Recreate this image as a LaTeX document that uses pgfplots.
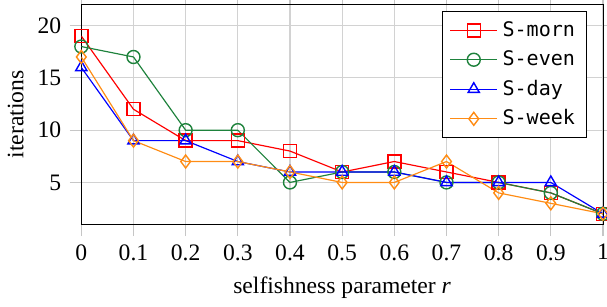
\documentclass[border=0pt]{standalone}
\usepackage{pgfplots}
\pgfplotsset{compat=1.18}
\usepackage{fontspec}
\setmainfont{Liberation Serif}
\setmonofont{DejaVu Sans Mono}
\definecolor{cgreen}{RGB}{30,130,60}
\definecolor{corange}{RGB}{255,140,20}
\begin{document}
\begin{tikzpicture}
\begin{axis}[
  width=221pt, height=93pt, scale only axis,
  xmin=0, xmax=1, ymin=1, ymax=22,
  xtick={0,0.1,...,1.01},
  xticklabels={0,0.1,0.2,0.3,0.4,0.5,0.6,0.7,0.8,0.9,1},
  ytick={5,10,15,20},
  grid=major,
  grid style={gray!35, line width=0.5pt},
  tick align=outside,
  major tick style={gray!45, line width=0.5pt},
  major tick length=5pt,
  /pgf/number format/assume math mode=true,
  xlabel={selfishness parameter \textit{r}},
  ylabel={iterations},
  xlabel style={yshift=0pt},
  ylabel style={yshift=-1pt},
  legend pos=north east,
  legend style={font=\ttfamily\fontsize{8.5}{9}\selectfont, row sep=0.6pt, legend cell align=left},
  legend image code/.code={\draw[mark repeat=2,mark phase=2] plot coordinates {(0cm,0cm)(0.35cm,0cm)(0.7cm,0cm)};},
  mark size=2.75pt,
  every axis plot/.append style={line width=0.5pt},
]
\addplot[red, mark=square, mark options={draw=red, line width=0.6pt}] coordinates {(0,19)(0.1,12)(0.2,9)(0.3,9)(0.4,8)(0.5,6)(0.6,7)(0.7,6)(0.8,5)(0.9,4)(1,2)};
\addlegendentry{S-morn}
\addplot[cgreen, mark=o, mark options={draw=cgreen, line width=0.6pt}] coordinates {(0,18)(0.1,17)(0.2,10)(0.3,10)(0.4,5)(0.5,6)(0.6,6)(0.7,5)(0.8,5)(0.9,4)(1,2)};
\addlegendentry{S-even}
\addplot[blue, mark=triangle, mark options={draw=blue, line width=0.6pt}] coordinates {(0,16)(0.1,9)(0.2,9)(0.3,7)(0.4,6)(0.5,6)(0.6,6)(0.7,5)(0.8,5)(0.9,5)(1,2)};
\addlegendentry{S-day}
\addplot[corange, mark=diamond, mark options={draw=corange, line width=0.6pt}] coordinates {(0,17)(0.1,9)(0.2,7)(0.3,7)(0.4,6)(0.5,5)(0.6,5)(0.7,7)(0.8,4)(0.9,3)(1,2)};
\addlegendentry{S-week}
\end{axis}
\pgfresetboundingbox
\path (current axis.outer south west) rectangle ([xshift=1.7pt,yshift=2pt]current axis.north east);
\end{tikzpicture}
\end{document}
